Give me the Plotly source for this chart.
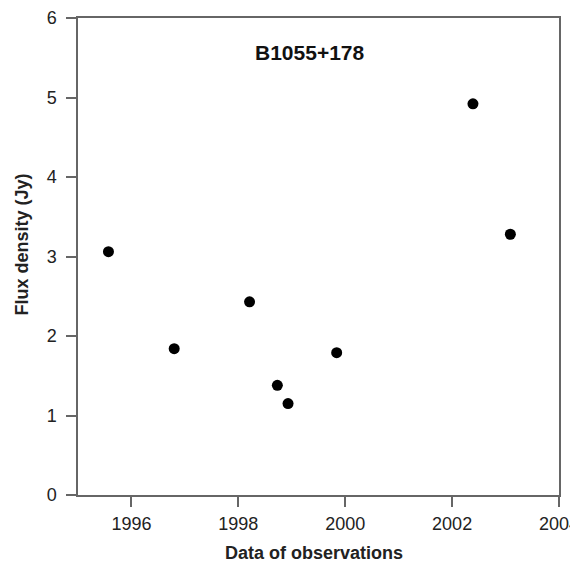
import plotly.graph_objects as go

years = [1995.57, 1996.80, 1998.21, 1998.73, 1998.93, 1999.84, 2002.39, 2003.09]
flux = [3.06, 1.84, 2.43, 1.38, 1.15, 1.79, 4.92, 3.28]
x_ticks = [1996, 1998, 2000, 2002, 2004]
y_ticks = [0, 1, 2, 3, 4, 5, 6]
source_name = "B1055+178"
x_title = "Data of observations"
y_title = "Flux density (Jy)"

FONT = "Liberation Sans, Arial"

fig = go.Figure()
fig.add_trace(go.Scatter(
    x=years, y=flux, mode="markers",
    marker=dict(color="black", size=11),
    showlegend=False,
))

axis_common = dict(
    showline=True, linecolor="#666666", linewidth=1.5, mirror=True,
    ticks="outside", ticklen=10, tickwidth=1.5, tickcolor="#666666",
    showgrid=False, zeroline=False, automargin=False,
    ticklabeloverflow="allow",
    tickfont=dict(family=FONT, size=18, color="#222222"),
)

fig.update_xaxes(range=[1995, 2004], tickvals=x_ticks, ticklabelstandoff=2, **axis_common)
fig.update_yaxes(range=[0, 6], tickvals=y_ticks, ticklabelstandoff=6, **axis_common)

fig.add_annotation(
    x=0.482, y=0.927, xref="paper", yref="paper", xanchor="center", yanchor="middle",
    text="<b>" + source_name + "</b>", showarrow=False,
    font=dict(family=FONT, size=21, color="#111111"),
)
fig.add_annotation(
    x=0.49, y=-0.121, xref="paper", yref="paper", xanchor="center", yanchor="middle",
    text="<b>" + x_title + "</b>", showarrow=False,
    font=dict(family=FONT, size=18, color="#222222"),
)
fig.add_annotation(
    x=-0.1164, y=0.525, xref="paper", yref="paper", xanchor="center", yanchor="middle",
    textangle=-90,
    text="<b>" + y_title + "</b>", showarrow=False,
    font=dict(family=FONT, size=18, color="#222222"),
)

fig.update_layout(
    width=570, height=554,
    margin=dict(l=70, r=19, t=10, b=67),
    paper_bgcolor="white", plot_bgcolor="white",
)

fig.write_html("out.html")
